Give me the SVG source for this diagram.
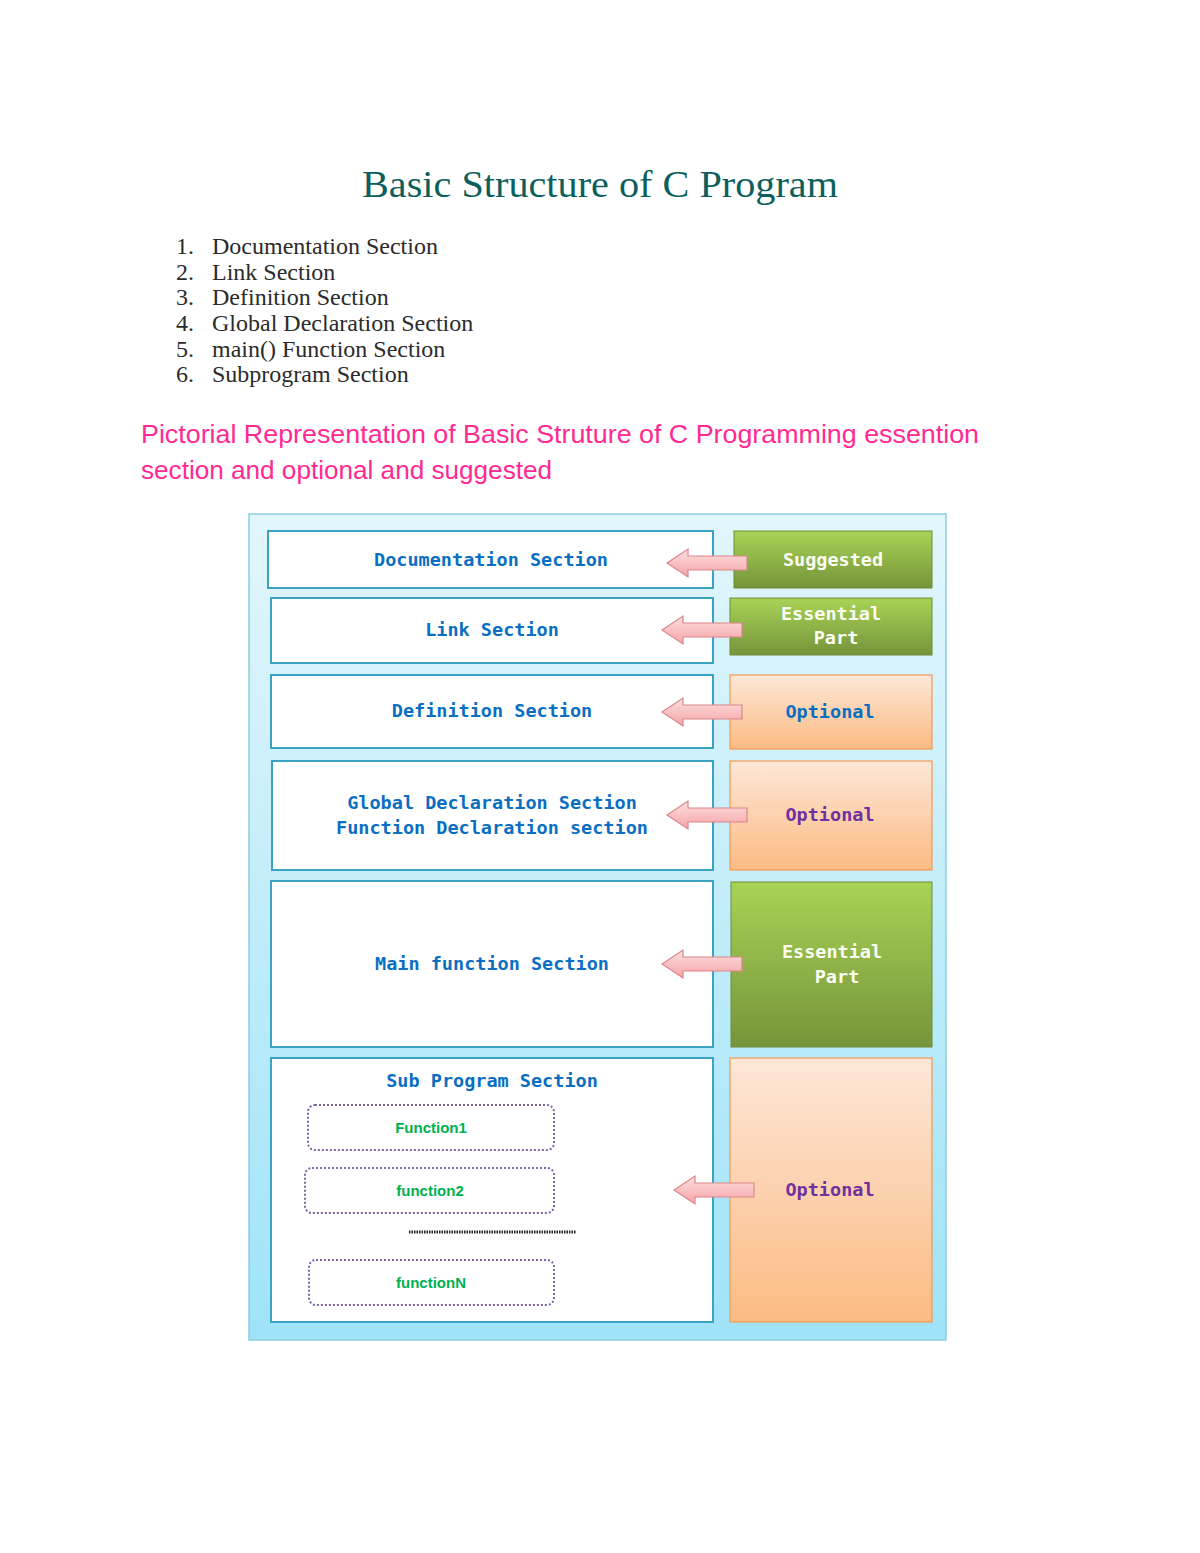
<svg xmlns="http://www.w3.org/2000/svg" xmlns:xlink="http://www.w3.org/1999/xlink" width="1200" height="1553" viewBox="0 0 1200 1553">
<style>
.title{font-family:"Liberation Serif","DejaVu Serif",serif;font-size:37px;fill:#0d5f5c}
.li{font-family:"Liberation Serif","DejaVu Serif",serif;font-size:24px;fill:#2b2b2b}
.pink{font-family:"Liberation Sans","Noto Sans",sans-serif;font-size:25px;fill:#ff2a93}
.sec{fill:#fff;stroke:#3aa3c3;stroke-width:2}
.lbl{font-family:"DejaVu Sans Mono","Liberation Mono",monospace;font-weight:bold;font-size:18.5px;fill:#0a6fc2;text-anchor:middle}
.wlbl{font-family:"DejaVu Sans Mono","Liberation Mono",monospace;font-weight:bold;font-size:18.5px;fill:#fbfdf3;text-anchor:middle}
.plbl{font-family:"DejaVu Sans Mono","Liberation Mono",monospace;font-weight:bold;font-size:18.5px;fill:#7030a0;text-anchor:middle}
.grn{fill:url(#g);stroke:#6f8e35;stroke-width:1}
.org{fill:url(#o);stroke:#f39a55;stroke-width:1.2}
.fn{fill:#fff;stroke:#8064a2;stroke-width:2;stroke-dasharray:2 2}
.fl{font-family:"Liberation Sans","Noto Sans",sans-serif;font-weight:bold;font-size:15px;fill:#00b050;text-anchor:middle}
.arr{fill:url(#p);stroke:#d9868a;stroke-width:1.2}
</style>
<defs>
<linearGradient id="bg" x1="0" y1="0" x2="0" y2="1"><stop offset="0" stop-color="#e2f6fc"/><stop offset="1" stop-color="#9fe3f8"/></linearGradient>
<linearGradient id="g" x1="0" y1="0" x2="0" y2="1"><stop offset="0" stop-color="#a8d356"/><stop offset="1" stop-color="#76943a"/></linearGradient>
<linearGradient id="o" x1="0" y1="0" x2="0" y2="1"><stop offset="0" stop-color="#fde7d8"/><stop offset="1" stop-color="#fbbb83"/></linearGradient>
<linearGradient id="p" x1="0" y1="0" x2="0" y2="1"><stop offset="0" stop-color="#fde0e0"/><stop offset="1" stop-color="#f5a3a6"/></linearGradient>
<path id="arrow" class="arr" d="M0,0 L21,-14 L21,-7 L80,-7 L80,7 L21,7 L21,14 Z"/>
</defs>
<rect width="1200" height="1553" fill="#fff"/>
<text class="title" x="600" y="197" text-anchor="middle" textLength="476" lengthAdjust="spacingAndGlyphs">Basic Structure of C Program</text>
<g class="li">
<text x="176" y="254">1.</text><text x="212" y="254">Documentation Section</text>
<text x="176" y="280">2.</text><text x="212" y="280">Link Section</text>
<text x="176" y="305">3.</text><text x="212" y="305">Definition Section</text>
<text x="176" y="331">4.</text><text x="212" y="331">Global Declaration Section</text>
<text x="176" y="357">5.</text><text x="212" y="357">main() Function Section</text>
<text x="176" y="382">6.</text><text x="212" y="382">Subprogram Section</text>
</g>
<text class="pink" x="141" y="443" textLength="838" lengthAdjust="spacingAndGlyphs">Pictorial Representation of Basic Struture of C Programming essention</text>
<text class="pink" x="141" y="479" textLength="411" lengthAdjust="spacingAndGlyphs">section and optional and suggested</text>
<g id="panel">
<rect x="249" y="514" width="697" height="826" fill="url(#bg)" stroke="#8ccde0" stroke-width="1.5"/>
</g>
<g id="doc"><rect class="sec" x="268" y="531" width="445" height="57"/><text class="lbl" x="491" y="566">Documentation Section</text></g>
<g id="link"><rect class="sec" x="271" y="598" width="442" height="65"/><text class="lbl" x="492" y="636">Link Section</text></g>
<g id="def"><rect class="sec" x="271" y="675" width="442" height="73"/><text class="lbl" x="492" y="717">Definition Section</text></g>
<g id="glob"><rect class="sec" x="272" y="761" width="441" height="109"/><text class="lbl" x="492" y="809">Global Declaration Section</text><text class="lbl" x="492" y="834">Function Declaration section</text></g>
<g id="main"><rect class="sec" x="271" y="881" width="442" height="166"/><text class="lbl" x="492" y="970">Main function Section</text></g>
<g id="sub"><rect class="sec" x="271" y="1058" width="442" height="264"/><text class="lbl" x="492" y="1087">Sub Program Section</text>
<g id="f1"><rect class="fn" x="308" y="1105" width="246" height="45" rx="7"/><text class="fl" x="431" y="1133">Function1</text></g>
<g id="f2"><rect class="fn" x="305" y="1168" width="249" height="45" rx="7"/><text class="fl" x="430" y="1196">function2</text></g>
<line x1="409" y1="1232" x2="576" y2="1232" stroke="#222" stroke-width="3" stroke-dasharray="1.5 1"/>
<g id="fN"><rect class="fn" x="309" y="1260" width="245" height="45" rx="7"/><text class="fl" x="431" y="1288">functionN</text></g>
</g>
<g id="r1"><rect class="grn" x="734" y="531" width="198" height="57"/><text class="wlbl" x="833" y="566">Suggested</text></g>
<g id="r2"><rect class="grn" x="730" y="598" width="202" height="57"/><text class="wlbl" x="831" y="620">Essential</text><text class="wlbl" x="836" y="644">Part</text></g>
<g id="r3"><rect class="org" x="730" y="675" width="202" height="74"/><text class="lbl" x="830" y="718">Optional</text></g>
<g id="r4"><rect class="org" x="730" y="761" width="202" height="109"/><text class="plbl" x="830" y="821">Optional</text></g>
<g id="r5"><rect class="grn" x="731" y="882" width="201" height="165"/><text class="wlbl" x="832" y="958">Essential</text><text class="wlbl" x="837" y="983">Part</text></g>
<g id="r6"><rect class="org" x="730" y="1058" width="202" height="264"/><text class="plbl" x="830" y="1196">Optional</text></g>
<g id="connectors">
<use xlink:href="#arrow" x="667" y="563"/>
<use xlink:href="#arrow" x="662" y="630"/>
<use xlink:href="#arrow" x="662" y="712"/>
<use xlink:href="#arrow" x="667" y="815"/>
<use xlink:href="#arrow" x="662" y="964"/>
<use xlink:href="#arrow" x="674" y="1190"/>
</g>
</svg>
